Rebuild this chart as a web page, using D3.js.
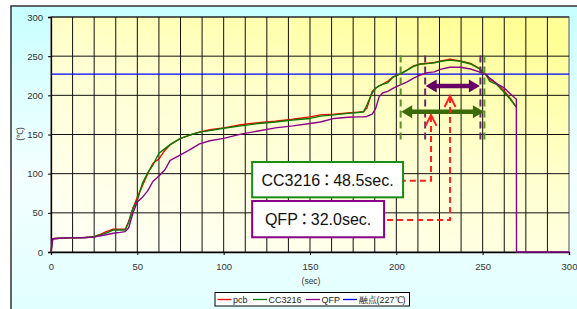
<!DOCTYPE html>
<html><head><meta charset="utf-8">
<script src="https://cdn.jsdelivr.net/npm/d3@7"></script>
<style>
html,body{margin:0;padding:0;background:#fff;overflow:hidden;}
text{font-family:"Liberation Sans",Arial,sans-serif;}
.colon{font-family:"Noto Sans CJK JP";font-feature-settings:"palt" 1;font-kerning:normal;}
</style></head>
<body><svg id="c" width="577" height="309"></svg>
<script>
// ---- data ----
const times = [0,1,5,10,15,20,25,28,32,36,40,43,45,47.5,50,53,56,59,62.5,66,69,75,80,86,92,100,110,120,130,140,150,156,164,172,178,181,183,186,188,190,192,195,198,202,206,210,214,218,222,226,231,237,243,248,250,252,254,256,258,262,266,269.5,269.6,300];
const pcb    = [0,17,17.5,18,18,18.5,19.5,22,26,29,29,29,39,56,70,85,100,113,119,130,137,145,149,153,156,158.5,162.5,165,167,169.5,172.5,175,176,177.5,178.5,179,184,205,209,212,214,218,223.5,227,232,237.5,240,241,242,244,246,244,240.8,234.5,230,226,220,218,215,207,196,185,null,null];
const cc3216 = [0,17,17.5,18,18,18.5,19.5,21.5,24,28,28,28,38,56,66,88,101,111,126,132,137,145,149,153,155,158,161,164,166,168.5,170.5,173.5,175,177,178,179,188,203,209,212,214,216,223,227,232,237,240,240.5,241.5,243.5,245,243.5,240,234,230,226,218,216,214,205,195,185,null,null];
const qfp    = [0,17,17.5,18,18,18.5,19,20.5,22,24,25,26,31,50,64,70,78,90,97,105,117,124,130,138,142,145,150.5,154.5,158.5,161,164,166,170.5,172,172.5,172.7,173,176,183,198,203,205,209,213,217,222,226,229,230,233.5,235.8,235.8,233.6,230,228,226.8,222,219,215,210.2,202,195,0,0];
const meltPoint = 227;
const seriesNames = ["pcb","CC3216","QFP","融点(227℃)"];
const seriesColors = ["#ff0000","#008000","#8b008b","#0000ff"];
const xTicks = [0,50,100,150,200,250,300];
const yTicks = [0,50,100,150,200,250,300];
const xGridStep = 12.5;
const ccWindow = [202.5, 251];      // sec, 48.5 sec
const qfpWindow = [216.7, 248.7];   // sec, 32.0 sec
const boxLabels = ["CC3216：48.5sec.", "QFP：32.0sec."];

// ---- layout ----
const svg = d3.select("#c");
const x = d3.scaleLinear([0,300],[51,569]);
const y = d3.scaleLinear([0,300],[252,17]);
const defs = svg.append("defs");
const bg = defs.append("linearGradient").attr("id","bg").attr("x1",0).attr("y1",0).attr("x2",0).attr("y2",1);
bg.append("stop").attr("offset","0").attr("stop-color","#c8ffff");
bg.append("stop").attr("offset","0.5").attr("stop-color","#f4ffff");
bg.append("stop").attr("offset","1").attr("stop-color","#dcffff");
const pg = defs.append("linearGradient").attr("id","pg").attr("x1",0.2).attr("y1",1).attr("x2",0.8).attr("y2",0);
pg.append("stop").attr("offset","0").attr("stop-color","#fffff4");
pg.append("stop").attr("offset","0.55").attr("stop-color","#ffffd0");
pg.append("stop").attr("offset","1").attr("stop-color","#ffff96");

svg.append("rect").attr("x",11).attr("y",6).attr("width",600).attr("height",340)
  .attr("fill","url(#bg)").attr("stroke","#333").attr("stroke-width",1.5);

// plot area
svg.append("rect").attr("x",x(0)).attr("y",y(300)).attr("width",x(300)-x(0)).attr("height",y(0)-y(300))
  .attr("fill","url(#pg)").attr("stroke","#888").attr("stroke-width",1.5);

// grid
const g = svg.append("g");
g.selectAll(".vg").data(d3.range(xGridStep, 300, xGridStep)).join("line")
  .attr("x1",d=>x(d)).attr("x2",d=>x(d)).attr("y1",y(0)).attr("y2",y(300))
  .attr("stroke","#111").attr("stroke-width",1);
g.selectAll(".hg").data(yTicks.filter(d=>d>0)).join("line")
  .attr("x1",x(0)).attr("x2",x(300)).attr("y1",d=>y(d)).attr("y2",d=>y(d))
  .attr("stroke","#111").attr("stroke-width",1);

// axes
const xa = svg.append("g").attr("transform",`translate(0,${y(0)})`)
  .call(d3.axisBottom(x).tickValues(xTicks).tickSize(3).tickPadding(8));
const ya = svg.append("g").attr("transform",`translate(${x(0)},0)`)
  .call(d3.axisLeft(y).tickValues(yTicks).tickSize(3).tickPadding(5));
[xa,ya].forEach(a=>{
  a.select(".domain").attr("stroke","#000").attr("stroke-width",1.3);
  a.selectAll(".tick line").attr("stroke","#000");
  a.selectAll("text").attr("font-size","9.5px").attr("fill","#333").attr("font-family","Liberation Sans,Arial,sans-serif");
});
svg.append("text").attr("x",311).attr("y",283.5).attr("text-anchor","middle")
  .attr("font-size","8.5px").attr("fill","#333").text("(sec)");
svg.append("text").attr("transform","translate(23,134) rotate(-90)").attr("text-anchor","middle")
  .attr("font-size","8.5px").attr("fill","#333").text("(℃)");

// melt line
svg.append("line").attr("x1",x(0)).attr("x2",x(300)).attr("y1",y(meltPoint)).attr("y2",y(meltPoint))
  .attr("stroke",seriesColors[3]).attr("stroke-width",1.3);

// series
const series = [pcb, cc3216, qfp];
series.forEach((vals,i)=>{
  const pts = times.map((t,k)=>[t, vals[k]]);
  const line = d3.line().defined(d=>d[1]!==null).x(d=>x(d[0])).y(d=>y(d[1]));
  svg.append("path").datum(pts).attr("d",line).attr("fill","none")
    .attr("stroke",seriesColors[i]).attr("stroke-width",1.4).attr("stroke-linejoin","round");
});

// dashed window lines
function vdash(t, color){
  svg.append("line").attr("x1",x(t)).attr("x2",x(t)).attr("y1",y(251)).attr("y2",y(138.5))
    .attr("stroke",color).attr("stroke-width",2).attr("stroke-dasharray","7,4");
}
vdash(ccWindow[0],"#5a8f2a"); vdash(ccWindow[1],"#5a8f2a");
vdash(qfpWindow[0],"#6a2a6a"); vdash(qfpWindow[1],"#6a2a6a");

// double arrows
function dArrow(t1,t2,temp,color){
  const x1=x(t1), x2=x(t2), yy=y(temp), hl=11, hw=6.5;
  svg.append("line").attr("x1",x1+hl-1).attr("x2",x2-hl+1).attr("y1",yy).attr("y2",yy)
    .attr("stroke",color).attr("stroke-width",4.5);
  svg.append("path").attr("d",`M${x1},${yy}L${x1+hl},${yy-hw}L${x1+hl},${yy+hw}Z`).attr("fill",color);
  svg.append("path").attr("d",`M${x2},${yy}L${x2-hl},${yy-hw}L${x2-hl},${yy+hw}Z`).attr("fill",color);
}
dArrow(qfpWindow[0]+0.3, qfpWindow[1]-0.3, 212, "#660066");
dArrow(ccWindow[0]+0.3, ccWindow[1]-0.3, 179, "#3a6b08");

// red dashed leaders
function leader(tipT, tipC, cornerC, endT){
  const tx=x(tipT), ty=y(tipC), cy=y(cornerC), ex=x(endT);
  svg.append("path").attr("d",`M${tx},${ty+1}L${tx},${cy}L${ex},${cy}`).attr("fill","none")
    .attr("stroke","#ff2020").attr("stroke-width",2).attr("stroke-dasharray","6,4");
  svg.append("path").attr("d",`M${tx-5.5},${ty+11}L${tx},${ty}L${tx+5.5},${ty+11}`).attr("fill","none")
    .attr("stroke","#ff2020").attr("stroke-width",2);
}
leader(220.1, 175, 91, 203.9);
leader(231.1, 199.2, 40.9, 192.9);

// label boxes
function box(t1,t2,c1,c2,color,label){
  const bx=x(t1), bw=x(t2)-x(t1), by=y(c1), bh=y(c2)-y(c1);
  svg.append("rect").attr("x",bx).attr("y",by).attr("width",bw).attr("height",bh)
    .attr("fill","#fff").attr("stroke",color).attr("stroke-width",2);
  const parts = label.split("：");
  const t = svg.append("text").attr("x",bx+bw/2).attr("y",by+bh/2+6).attr("text-anchor","middle")
    .attr("font-size","16px").attr("fill","#111");
  t.append("tspan").text(parts[0]);
  t.append("tspan").attr("class","colon").attr("dx",2.5).text("：");
  t.append("tspan").attr("dx",2.5).text(parts[1]);
}
box(116.5,203.9,114.9,69.8,"#1a8c1a",boxLabels[0]);
box(116.5,192.9,65.1,18.8,"#8b008b",boxLabels[1]);

// legend
const lg = svg.append("g");
lg.append("rect").attr("x",215).attr("y",292.5).attr("width",194.5).attr("height",13.5)
  .attr("fill","#fff").attr("stroke","#000").attr("stroke-width",1);
const legX = [217.5, 253, 306, 343];
const legW = [14, 14, 14, 14];
seriesNames.forEach((n,i)=>{
  lg.append("line").attr("x1",legX[i]).attr("x2",legX[i]+legW[i]).attr("y1",299.5).attr("y2",299.5)
    .attr("stroke",seriesColors[i]).attr("stroke-width",1.3);
  lg.append("text").attr("x",legX[i]+legW[i]+1.5).attr("y",303)
    .attr("font-size","9px").attr("fill","#222")
    .attr("font-family", i===3 ? "Liberation Sans,'Noto Sans CJK JP',sans-serif" : "Liberation Sans,Arial,sans-serif")
    .text(n);
});
</script></body></html>
